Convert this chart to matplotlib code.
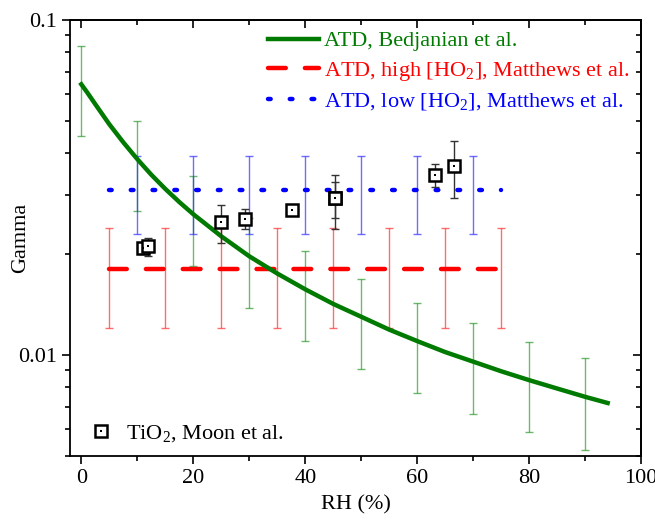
import matplotlib
matplotlib.use("Agg")
import matplotlib.pyplot as plt
from matplotlib.ticker import LogLocator, MultipleLocator, NullFormatter, FixedFormatter, FixedLocator

plt.rcParams['font.family'] = ['Liberation Serif', 'DejaVu Serif']
plt.rcParams['mathtext.fontset'] = 'custom'
plt.rcParams['mathtext.rm'] = 'Liberation Serif'

# ATD, Bedjanian et al. - curve
bed_rh = [0, 1, 2.5, 5, 7.5, 10, 12.5, 15, 17.5, 20, 25, 30, 35, 40, 45, 50, 55, 60, 65, 70,
          75, 80, 85, 90, 94]
bed_gamma = [0.0642, 0.0609, 0.0560, 0.0488, 0.0431, 0.0384, 0.0345, 0.0313, 0.0286, 0.0263,
             0.0226, 0.0197, 0.0175, 0.0157, 0.0142, 0.0130, 0.0119, 0.0110, 0.0102, 0.00955,
             0.00894, 0.00841, 0.00794, 0.00750, 0.00719]
# error bars on the curve
bed_err_rh = [0, 10, 20, 30, 40, 50, 60, 70, 80, 90]
bed_err_gamma = [0.0642, 0.0384, 0.0263, 0.0197, 0.0157, 0.0130, 0.0110, 0.00955, 0.00841, 0.00750]
bed_err = [0.0193, 0.0115, 0.0079, 0.0059, 0.0047, 0.0039, 0.0033, 0.0029, 0.0025, 0.0023]

# ATD, high [HO2], Matthews et al.
high_rh = [5, 15, 25, 35, 45, 55, 65, 75]
high_gamma = [0.018, 0.018, 0.018, 0.018, 0.018, 0.018, 0.018, 0.018]
high_err = [0.006, 0.006, 0.006, 0.006, 0.006, 0.006, 0.006, 0.006]

# ATD, low [HO2], Matthews et al.
low_line_rh = [5, 75]
low_line_gamma = [0.031, 0.031]
low_rh = [10, 20, 30, 40, 50, 60, 70]
low_gamma = [0.031, 0.031, 0.031, 0.031, 0.031, 0.031, 0.031]
low_err_up = [0.0083, 0.0083, 0.0083, 0.0083, 0.0083, 0.0083, 0.0083]
low_err_dn = [0.0080, 0.0080, 0.0080, 0.0080, 0.0080, 0.0080, 0.0080]

# TiO2, Moon et al.
moon_rh = [11.0, 11.9, 25.0, 29.2, 37.6, 45.3, 45.3, 63.2, 66.6]
moon_gamma = [0.0208, 0.0212, 0.0249, 0.0255, 0.0270, 0.0294, 0.0294, 0.0345, 0.0367]
moon_err_up = [0.0008, 0.0012, 0.0032, 0.0017, 0.0004, 0.0050, 0.0035, 0.0027, 0.0069]
moon_err_dn = [0.0008, 0.0014, 0.0033, 0.0018, 0.0004, 0.0056, 0.0038, 0.0028, 0.0072]

FS = 16

fig = plt.figure(figsize=(6.55, 5.21), dpi=100)
ax = fig.add_axes([0.107, 0.125, 0.872, 0.837])

# error bars first
ax.errorbar(bed_err_rh, bed_err_gamma, yerr=bed_err, fmt='none', ecolor='#2e9a2e',
            elinewidth=1, capsize=3, alpha=0.7, zorder=2)
ax.errorbar(high_rh, high_gamma, yerr=high_err, fmt='none', ecolor='#ff3030',
            elinewidth=1, capsize=3, alpha=0.7, zorder=2)
ax.errorbar(low_rh, low_gamma, yerr=[low_err_dn, low_err_up], fmt='none', ecolor='#3030ff',
            elinewidth=1, capsize=3, alpha=0.7, zorder=2)

line_bed, = ax.plot(bed_rh, bed_gamma, color='#007a00', lw=3.2, zorder=4,
                    solid_joinstyle='round', label='ATD, Bedjanian et al.')
line_high, = ax.plot(high_rh, high_gamma, color='#ff0000', lw=3.2, zorder=3,
                     linestyle=(0, (4.0, 4.3)), dash_capstyle='round',
                     label='ATD, high [HO$_\\mathregular{2}$], Matthews et al.')
line_low, = ax.plot(low_line_rh, low_line_gamma, color='#0000ff', lw=3.2, zorder=3,
                    linestyle=(0, (0.6, 4.3)), dash_capstyle='round',
                    label='ATD, low [HO$_\\mathregular{2}$], Matthews et al.')

ax.errorbar(moon_rh, moon_gamma, yerr=[moon_err_dn, moon_err_up], fmt='none', ecolor='#333333',
            elinewidth=1, capsize=3, zorder=5)
sq, = ax.plot(moon_rh, moon_gamma, 's', ms=8, mfc='white', mec='black', mew=1.8, zorder=6)
dot, = ax.plot(moon_rh, moon_gamma, 's', ms=1.6, mfc='black', mec='black', mew=0, zorder=7)

ax.set_yscale('log')
ax.set_xlim(-2, 100)
ax.set_ylim(0.005, 0.1)

ax.xaxis.set_major_locator(MultipleLocator(20))
ax.xaxis.set_minor_locator(MultipleLocator(10))
ax.yaxis.set_major_locator(FixedLocator([0.01, 0.1]))
ax.yaxis.set_major_formatter(FixedFormatter(['0.01', '0.1']))
ax.yaxis.set_minor_locator(LogLocator(base=10, subs=[2, 3, 4, 5, 6, 7, 8, 9]))
ax.yaxis.set_minor_formatter(NullFormatter())

# ticks outward at bottom/left, inward at top/right
ax.tick_params(which='both', direction='out', labelsize=FS, width=1.2)
ax.tick_params(which='major', length=6)
ax.tick_params(which='minor', length=3.5)
for sp in ax.spines.values():
    sp.set_linewidth(1.3)

ax2 = ax.secondary_xaxis('top')
ax2.xaxis.set_major_locator(MultipleLocator(20))
ax2.xaxis.set_minor_locator(MultipleLocator(10))
ax2.tick_params(which='both', direction='in', labeltop=False, width=1.2)
ax2.tick_params(which='major', length=6)
ax2.tick_params(which='minor', length=3.5)
ax2.spines['top'].set_linewidth(1.3)
ax3 = ax.secondary_yaxis('right')
ax3.yaxis.set_major_locator(FixedLocator([0.01, 0.1]))
ax3.yaxis.set_minor_locator(LogLocator(base=10, subs=[2, 3, 4, 5, 6, 7, 8, 9]))
ax3.yaxis.set_minor_formatter(NullFormatter())
ax3.tick_params(which='both', direction='in', labelright=False, width=1.2)
ax3.tick_params(which='major', length=6)
ax3.tick_params(which='minor', length=3.5)
ax3.spines['right'].set_linewidth(1.3)

ax.set_xlabel('RH (%)', fontsize=FS)
ax.set_ylabel('Gamma', fontsize=FS)
ax.xaxis.set_label_coords(0.5, -0.112)
ax.yaxis.set_label_coords(-0.086, 0.5)
ax.xaxis.label.set_va('center')
ax.yaxis.label.set_va('center')

leg = ax.legend(handles=[line_bed, line_high, line_low], loc='upper right', frameon=False,
                fontsize=FS, labelcolor='linecolor', handlelength=2.3, handletextpad=0.25,
                labelspacing=0.38, borderaxespad=0.2, borderpad=0.3)
ax.add_artist(leg)
ax.legend(handles=[(sq, dot)], labels=['TiO$_\\mathregular{2}$, Moon et al.'], loc='lower left',
          frameon=False, fontsize=FS, handlelength=1.0, handletextpad=0.6,
          bbox_to_anchor=(0.0, -0.02))

fig.savefig('out.png', dpi=100)
